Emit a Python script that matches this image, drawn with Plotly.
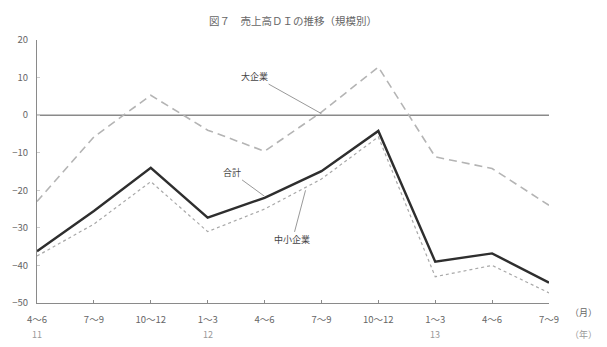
import plotly.graph_objects as go

# Quarter labels (months) and year markers
quarters = ["4～6", "7～9", "10～12", "1～3", "4～6", "7～9", "10～12", "1～3", "4～6", "7～9"]
years = {0: "11", 3: "12", 7: "13"}

# Sales DI by firm size
total = [-36.2, -25.5, -14.0, -27.3, -22.0, -14.9, -4.2, -39.0, -36.8, -44.6]
large = [-23.0, -5.8, 5.3, -4.0, -9.6, 0.8, 12.8, -11.1, -14.2, -24.0]
sme = [-37.5, -29.0, -17.7, -31.0, -25.0, -17.0, -5.8, -43.0, -40.0, -47.3]

y_ticks = [20, 10, 0, -10, -20, -30, -40, -50]

font_family = "Noto Sans CJK JP"
x = list(range(len(quarters)))

fig = go.Figure()

# zero reference line
fig.add_trace(go.Scatter(x=[0, 9], y=[0, 0], mode="lines",
                         line=dict(color="#8a8a8a", width=1.5), hoverinfo="skip"))
fig.add_trace(go.Scatter(x=x, y=large, mode="lines", name="大企業",
                         line=dict(color="#b4b4b4", width=1.6, dash="8px,5px")))
fig.add_trace(go.Scatter(x=x, y=sme, mode="lines", name="中小企業",
                         line=dict(color="#a8a8a8", width=1.2, dash="dot")))
fig.add_trace(go.Scatter(x=x, y=total, mode="lines", name="合計",
                         line=dict(color="#2e2e2e", width=2.4)))

fig.update_layout(
    width=607, height=347,
    margin=dict(l=37, r=58, t=40, b=44),
    paper_bgcolor="white", plot_bgcolor="white",
    showlegend=False,
    font=dict(family=font_family, size=9, color="#666"),
    xaxis=dict(range=[0, 9], tickmode="array", tickvals=x, ticktext=quarters,
               showgrid=False, zeroline=False, showline=True, linecolor="#8a8a8a",
               linewidth=1.2, ticks="inside", ticklen=3, tickcolor="#8a8a8a",
               ticklabelstandoff=7, tickfont=dict(size=9.5, color="#666")),
    yaxis=dict(range=[-50, 20], tickmode="array", tickvals=y_ticks,
               showgrid=False, zeroline=False, showline=True, linecolor="#8a8a8a",
               linewidth=1.2, ticks="inside", ticklen=3, tickcolor="#cccccc",
               ticklabelstandoff=6, tickfont=dict(size=9.5, color="#666")),
)

annotations = [
    dict(text="図７　売上高ＤＩの推移（規模別）", xref="paper", yref="paper",
         x=0.5, y=1.0, yshift=29, showarrow=False, font=dict(size=10.5, color="#666")),
    dict(text="（月）", xref="paper", yref="paper", x=1.0, y=0, xshift=50, yshift=-18,
         showarrow=False, font=dict(size=9, color="#666")),
    dict(text="（年）", xref="paper", yref="paper", x=1.0, y=0, xshift=50, yshift=-40,
         showarrow=False, font=dict(size=9, color="#999")),
    # series labels with leader lines (x, y = line end on the series; ax, ay = label)
    dict(text="大企業", x=5.0, y=0.4, ax=3.82, ay=10.4, axref="x", ayref="y",
         showarrow=True, arrowhead=0, arrowwidth=1, arrowcolor="#999",
         font=dict(size=9, color="#444")),
    dict(text="合計", x=4.0, y=-21.6, ax=3.42, ay=-15.2, axref="x", ayref="y",
         showarrow=True, arrowhead=0, arrowwidth=1, arrowcolor="#999",
         font=dict(size=9, color="#444")),
    dict(text="中小企業", x=4.72, y=-20.0, ax=4.49, ay=-33.2, axref="x", ayref="y",
         showarrow=True, arrowhead=0, arrowwidth=1, arrowcolor="#999",
         font=dict(size=9, color="#444")),
]
for i, yr in years.items():
    annotations.append(dict(text=yr, x=i, xref="x", y=0, yref="paper", yshift=-40,
                            showarrow=False, font=dict(size=9, color="#999")))
fig.update_layout(annotations=annotations)

fig.write_html("out.html")
